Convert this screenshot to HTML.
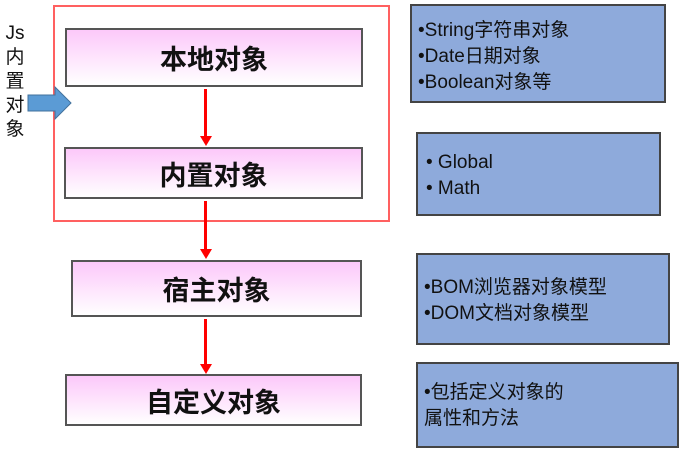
<!DOCTYPE html>
<html><head><meta charset="utf-8"><style>
body{margin:0;width:692px;height:459px;background:#fff;position:relative;overflow:hidden;font-family:"Liberation Sans","Noto Sans CJK SC",sans-serif;}
.a{position:absolute;box-sizing:border-box;}
.p{border:2px solid #555;background:linear-gradient(#fcc8fa,#fff);display:flex;align-items:center;justify-content:center;font-size:27px;font-weight:bold;color:#111;}
.b{background:#8eaadb;border:2px solid #444;font-size:19px;color:#111;line-height:26px;padding-left:6px;}
.v{width:3px;background:#f00;}
.h{width:0;height:0;border-left:6px solid transparent;border-right:6px solid transparent;border-top:10px solid #f00;}
</style></head><body>
<div class="a" style="left:53px;top:5px;width:337px;height:217px;border:2px solid #ff6060;"></div>
<div class="a" style="left:4px;top:22px;width:22px;font-size:19px;line-height:24px;text-align:center;color:#111;">Js<br>内<br>置<br>对<br>象</div>
<svg class="a" style="left:27px;top:86px" width="46" height="34"><polygon points="1,9 28,9 28,1 44,17 28,33 28,25 1,25" fill="#5b9bd5" stroke="#41719c" stroke-width="1"/></svg>
<div class="a p" style="left:65px;top:28px;width:298px;height:59px;">本地对象</div>
<div class="a p" style="left:64px;top:147px;width:299px;height:52px;">内置对象</div>
<div class="a p" style="left:71px;top:260px;width:291px;height:57px;">宿主对象</div>
<div class="a p" style="left:65px;top:374px;width:297px;height:52px;">自定义对象</div>
<div class="a v" style="left:204px;top:89px;height:48px;"></div><div class="a h" style="left:200px;top:136px;"></div>
<div class="a v" style="left:204px;top:201px;height:49px;"></div><div class="a h" style="left:200px;top:249px;"></div>
<div class="a v" style="left:204px;top:319px;height:46px;"></div><div class="a h" style="left:200px;top:364px;"></div>
<div class="a b" style="left:410px;top:4px;width:256px;height:99px;padding-top:12px;">•String字符串对象<br>•Date日期对象<br>•Boolean对象等</div>
<div class="a b" style="left:416px;top:132px;width:245px;height:84px;padding-top:16px;padding-left:8px;">• Global<br>• Math</div>
<div class="a b" style="left:416px;top:253px;width:254px;height:92px;padding-top:20px;">•BOM浏览器对象模型<br>•DOM文档对象模型</div>
<div class="a b" style="left:416px;top:362px;width:263px;height:86px;padding-top:16px;">•包括定义对象的<br>属性和方法</div>
</body></html>
